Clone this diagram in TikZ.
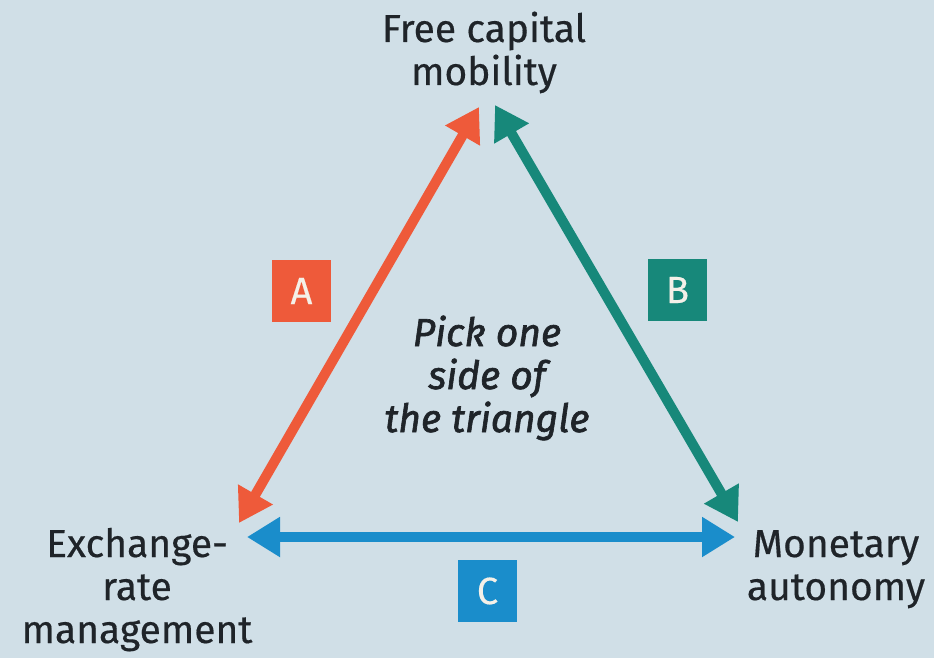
\documentclass[tikz,border=0pt]{standalone}
\usepackage{fontspec}
\setmainfont{Fira Sans}[FakeBold=0.4]
\newfontfamily\midfont{Fira Sans}[FakeBold=1.6]
\usetikzlibrary{arrows.meta}
\definecolor{bg}{HTML}{D0DFE7}
\definecolor{orA}{HTML}{EE5A3A}
\definecolor{tlB}{HTML}{17887A}
\definecolor{blC}{HTML}{1A8DCB}
\definecolor{ink}{HTML}{1F2429}
\definecolor{boxtext}{HTML}{F4F0E8}
\tikzset{
  lbl/.style={font=\fontsize{39}{43}\selectfont, text=ink, align=center, inner sep=0pt, anchor=base},
  ctr/.style={font=\midfont\fontsize{39}{43}\selectfont\itshape, text=ink, align=center, inner sep=0pt, anchor=base},
  tag/.style={minimum width=59pt, minimum height=62pt, inner sep=0pt, text=boxtext, font=\fontsize{38}{40}\selectfont},
  dbl/.style={line width=10pt, {Triangle[length=33pt,width=38pt]}-{Triangle[length=33pt,width=38pt]}, shorten <=0pt, shorten >=0pt},
}
\begin{document}
\begin{tikzpicture}[x=1pt,y=-1pt]
\fill[bg] (0,0) rectangle (934,658);
\useasboundingbox (0,0) rectangle (934,658);
% labels (anchor = baseline of last line)
\node[lbl] (top) at (484,85) {Free capital\\mobility};
\node[lbl] (left) at (137,643) {Exchange-\\rate\\management};
\node[lbl] (right) at (836,600) {Monetary\\autonomy};
\node[ctr] (mid) at (487,432) {Pick one\\side of\\the triangle};
% arrow end points
\coordinate (atop) at (479,107);
\coordinate (abot) at (239,523);
\coordinate (btop) at (495,105);
\coordinate (bbot) at (738,522);
\coordinate (cl) at (247,537);
\coordinate (cr) at (735,537);
\draw[dbl, orA] (abot) -- (atop);
\draw[dbl, tlB] (btop) -- (bbot);
\draw[dbl, blC] (cl) -- (cr);
% tags
\node[tag, fill=orA] (ta) at (301.5,291) {A};
\node[tag, fill=tlB] (tb) at (677.5,290) {B};
\node[tag, fill=blC] (tc) at (487.5,591) {C};
\end{tikzpicture}
\end{document}
